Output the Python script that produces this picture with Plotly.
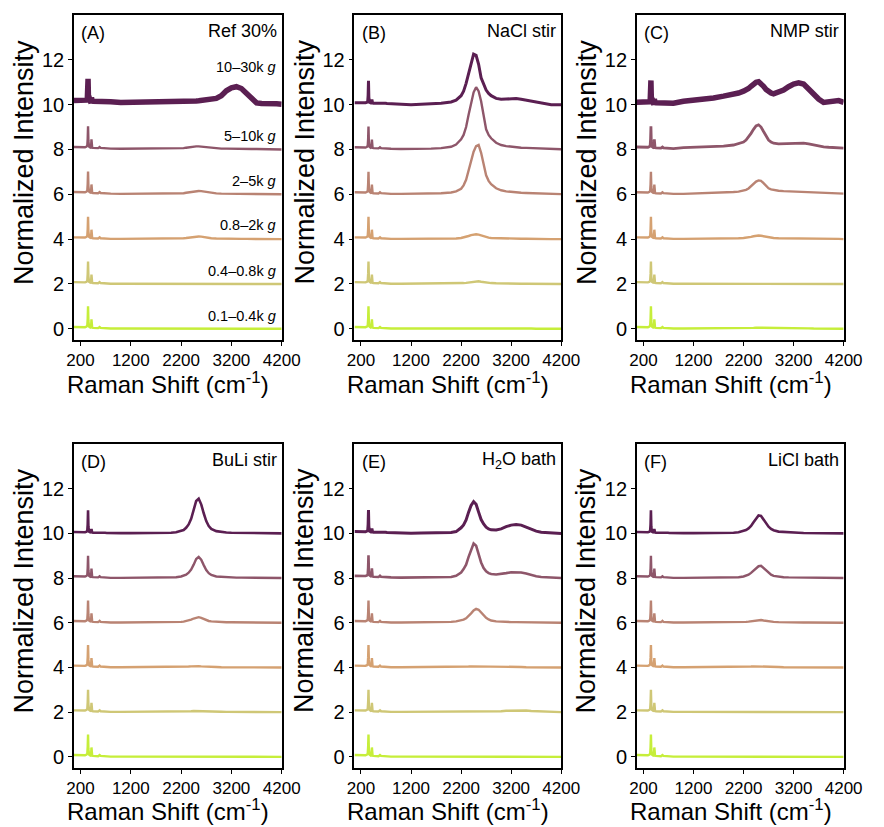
import plotly.graph_objects as go

# ---------------- data ----------------
# Low-wavenumber region (sharp lattice modes), shared grid
WAVENUMBER_LOW = [70, 150, 230, 290, 320, 335, 343, 350, 357, 370, 395, 410, 418,
                  425, 432, 450, 500, 550, 570, 580, 600, 640, 670, 690, 720, 800]
# relative intensity of the lattice modes (normalized to the strongest mode)
PHONON_BAND = [0.08, 0.07, 0.06, 0.07, 0.10, 0.15, 0.45, 1.00, 0.35, 0.10, 0.06, 0.08, 0.42,
               0.12, 0.05, 0.04, 0.03, 0.03, 0.06, 0.08, 0.04, 0.03, 0.05, 0.03, 0.02, 0.01]
PHONON_BAND_TOP = [0.06, 0.05, 0.04, 0.05, 0.08, 0.12, 0.40, 1.03, 0.30, 0.08, 0.05, 0.06, 0.20,
                   0.08, 0.04, 0.03, 0.03, 0.03, 0.05, 0.06, 0.03, 0.03, 0.04, 0.03, 0.02, 0.01]

# High-wavenumber region (broad bands), shared grid
WAVENUMBER_HIGH = [1000, 1200, 1400, 1600, 1800, 2000, 2100, 2200, 2250, 2300, 2350, 2400,
                   2450, 2500, 2550, 2600, 2650, 2700, 2750, 2800, 2900, 3000, 3100, 3200,
                   3300, 3400, 3500, 3600, 3700, 3800, 3900, 4000, 4100, 4200]

FRACTIONS = ["0.1–0.4k", "0.4–0.8k", "0.8–2k", "2–5k", "5–10k", "10–30k"]
OFFSETS = [0, 2, 4, 6, 8, 10]

# (A) Ref 30%
REF30 = [
    [0.01, 0.01, 0.01, 0.01, 0.01, 0.01, 0.01, 0.01, 0.01, 0.01, 0.01, 0.01, 0.01, 0.01, 0.01, 0.01, 0.01,
     0.01, 0.01, 0.01, 0.01, 0.01, 0.01, 0.01, 0.01, 0.01, 0.01, 0.01, 0.0, 0.0, 0.0, 0.0, 0.0, 0.0],
    [0.01, 0.01, 0.01, 0.01, 0.01, 0.01, 0.01, 0.02, 0.02, 0.02, 0.03, 0.03, 0.03, 0.03, 0.03, 0.03, 0.03,
     0.02, 0.02, 0.02, 0.01, 0.01, 0.01, 0.01, 0.01, 0.01, 0.01, 0.01, 0.01, 0.0, 0.0, 0.0, 0.0, 0.0],
    [0.01, 0.01, 0.01, 0.01, 0.01, 0.02, 0.02, 0.03, 0.04, 0.05, 0.07, 0.09, 0.11, 0.12, 0.12, 0.11, 0.09,
     0.07, 0.05, 0.04, 0.03, 0.02, 0.02, 0.02, 0.01, 0.01, 0.01, 0.01, 0.01, 0.01, 0.0, 0.0, 0.0, 0.0],
    [0.02, 0.02, 0.02, 0.02, 0.02, 0.03, 0.03, 0.04, 0.05, 0.07, 0.09, 0.11, 0.13, 0.15, 0.15, 0.14, 0.12,
     0.10, 0.08, 0.06, 0.04, 0.03, 0.03, 0.02, 0.02, 0.02, 0.02, 0.01, 0.01, 0.01, 0.01, 0.0, 0.0, 0.0],
    [0.03, 0.03, 0.03, 0.03, 0.03, 0.04, 0.04, 0.05, 0.06, 0.08, 0.10, 0.12, 0.13, 0.14, 0.14, 0.13, 0.11,
     0.09, 0.07, 0.06, 0.05, 0.04, 0.04, 0.03, 0.03, 0.03, 0.02, 0.02, 0.02, 0.01, 0.01, 0.01, 0.0, 0.0],
    [0.10, 0.10, 0.10, 0.10, 0.10, 0.10, 0.10, 0.12, 0.12, 0.13, 0.14, 0.15, 0.15, 0.16, 0.17, 0.18, 0.18,
     0.20, 0.20, 0.22, 0.28, 0.40, 0.62, 0.75, 0.80, 0.72, 0.50, 0.25, 0.08, 0.05, 0.06, 0.05, 0.04, 0.02],
]
BASE_REF30 = [0.0, 0.0, 0.0, 0.02, 0.03, 0.12]

# (B) NaCl stir
NACL_STIR = [
    [0.01, 0.01, 0.01, 0.01, 0.01, 0.01, 0.01, 0.02, 0.02, 0.02, 0.03, 0.03, 0.04, 0.04, 0.04, 0.03, 0.03,
     0.02, 0.02, 0.02, 0.01, 0.01, 0.01, 0.01, 0.01, 0.01, 0.01, 0.01, 0.0, 0.0, 0.0, 0.0, 0.0, 0.0],
    [0.01, 0.01, 0.01, 0.01, 0.01, 0.02, 0.02, 0.03, 0.04, 0.05, 0.07, 0.09, 0.11, 0.12, 0.12, 0.10, 0.08,
     0.06, 0.05, 0.04, 0.03, 0.02, 0.02, 0.02, 0.01, 0.01, 0.01, 0.01, 0.01, 0.0, 0.0, 0.0, 0.0, 0.0],
    [0.01, 0.01, 0.01, 0.01, 0.01, 0.02, 0.03, 0.05, 0.07, 0.10, 0.14, 0.18, 0.21, 0.22, 0.20, 0.16, 0.12,
     0.09, 0.07, 0.05, 0.04, 0.03, 0.03, 0.02, 0.02, 0.02, 0.02, 0.01, 0.01, 0.01, 0.01, 0.0, 0.0, 0.0],
    [0.02, 0.02, 0.02, 0.03, 0.05, 0.08, 0.13, 0.25, 0.40, 0.65, 1.05, 1.50, 1.90, 2.15, 2.20, 1.85, 1.30,
     0.85, 0.60, 0.45, 0.27, 0.18, 0.13, 0.10, 0.08, 0.07, 0.06, 0.05, 0.04, 0.03, 0.03, 0.02, 0.02, 0.01],
    [0.02, 0.02, 0.03, 0.04, 0.06, 0.12, 0.22, 0.45, 0.65, 1.00, 1.55, 2.10, 2.55, 2.78, 2.60, 2.15, 1.45,
     0.90, 0.65, 0.50, 0.30, 0.20, 0.15, 0.12, 0.10, 0.08, 0.07, 0.06, 0.05, 0.04, 0.03, 0.03, 0.02, 0.01],
    [0.0, 0.0, 0.02, 0.03, 0.06, 0.12, 0.20, 0.40, 0.60, 0.95, 1.35, 1.85, 2.25, 2.20, 1.80, 1.20, 0.90,
     0.65, 0.50, 0.40, 0.28, 0.24, 0.25, 0.27, 0.27, 0.24, 0.20, 0.15, 0.10, 0.05, 0.02, 0.0, 0.0, 0.0],
]
BASE_NACL_STIR = [0.0, 0.0, 0.0, 0.01, 0.02, 0.03]

# (C) NMP stir
NMP_STIR = [
    [0.01, 0.01, 0.01, 0.01, 0.01, 0.02, 0.02, 0.02, 0.03, 0.03, 0.04, 0.04, 0.05, 0.05, 0.05, 0.04, 0.04,
     0.03, 0.03, 0.02, 0.02, 0.02, 0.02, 0.02, 0.02, 0.02, 0.02, 0.01, 0.01, 0.01, 0.01, 0.0, 0.0, 0.0],
    [0.01, 0.01, 0.01, 0.01, 0.01, 0.01, 0.01, 0.01, 0.01, 0.01, 0.02, 0.02, 0.02, 0.02, 0.02, 0.02, 0.02,
     0.01, 0.01, 0.01, 0.01, 0.01, 0.01, 0.01, 0.01, 0.01, 0.01, 0.01, 0.0, 0.0, 0.0, 0.0, 0.0, 0.0],
    [0.01, 0.01, 0.01, 0.02, 0.02, 0.03, 0.04, 0.05, 0.06, 0.08, 0.10, 0.13, 0.15, 0.16, 0.15, 0.13, 0.10,
     0.08, 0.06, 0.05, 0.04, 0.04, 0.04, 0.04, 0.04, 0.04, 0.03, 0.03, 0.02, 0.02, 0.01, 0.01, 0.01, 0.0],
    [0.02, 0.03, 0.04, 0.05, 0.07, 0.10, 0.12, 0.16, 0.20, 0.26, 0.36, 0.47, 0.57, 0.62, 0.60, 0.50, 0.37,
     0.27, 0.22, 0.19, 0.16, 0.14, 0.13, 0.13, 0.13, 0.12, 0.11, 0.09, 0.07, 0.06, 0.05, 0.04, 0.03, 0.03],
    [0.08, 0.09, 0.10, 0.12, 0.15, 0.20, 0.25, 0.33, 0.42, 0.55, 0.72, 0.90, 1.05, 1.10, 1.00, 0.80, 0.58,
     0.42, 0.33, 0.28, 0.25, 0.26, 0.27, 0.28, 0.30, 0.28, 0.25, 0.20, 0.15, 0.12, 0.10, 0.08, 0.08, 0.06],
    [0.15, 0.19, 0.25, 0.30, 0.38, 0.45, 0.52, 0.60, 0.65, 0.72, 0.82, 0.92, 1.00, 1.02, 0.95, 0.82, 0.68,
     0.58, 0.52, 0.48, 0.55, 0.65, 0.80, 0.92, 0.97, 0.92, 0.70, 0.45, 0.25, 0.10, 0.12, 0.18, 0.18, 0.10],
]
BASE_NMP_STIR = [0.0, 0.0, 0.0, 0.01, 0.03, 0.05]

# (D) BuLi stir
BULI_STIR = [
    [0.01, 0.01, 0.01, 0.01, 0.01, 0.01, 0.01, 0.01, 0.01, 0.02, 0.02, 0.02, 0.02, 0.02, 0.02, 0.02, 0.02,
     0.02, 0.01, 0.01, 0.01, 0.01, 0.01, 0.01, 0.01, 0.01, 0.01, 0.0, 0.0, 0.0, 0.0, 0.0, 0.0, 0.0],
    [0.01, 0.01, 0.01, 0.01, 0.01, 0.01, 0.01, 0.02, 0.02, 0.03, 0.03, 0.04, 0.05, 0.05, 0.05, 0.05, 0.04,
     0.03, 0.03, 0.02, 0.02, 0.02, 0.01, 0.01, 0.01, 0.01, 0.01, 0.01, 0.01, 0.0, 0.0, 0.0, 0.0, 0.0],
    [0.01, 0.01, 0.01, 0.01, 0.01, 0.01, 0.02, 0.02, 0.03, 0.03, 0.04, 0.05, 0.06, 0.06, 0.06, 0.05, 0.04,
     0.03, 0.03, 0.02, 0.02, 0.01, 0.01, 0.01, 0.01, 0.01, 0.01, 0.01, 0.01, 0.0, 0.0, 0.0, 0.0, 0.0],
    [0.01, 0.01, 0.01, 0.01, 0.02, 0.02, 0.03, 0.04, 0.05, 0.07, 0.10, 0.14, 0.19, 0.23, 0.25, 0.22, 0.17,
     0.12, 0.08, 0.06, 0.04, 0.03, 0.02, 0.02, 0.02, 0.01, 0.01, 0.01, 0.01, 0.01, 0.0, 0.0, 0.0, 0.0],
    [0.01, 0.01, 0.01, 0.02, 0.02, 0.03, 0.04, 0.07, 0.10, 0.15, 0.24, 0.38, 0.60, 0.85, 0.95, 0.82, 0.58,
     0.36, 0.22, 0.14, 0.07, 0.05, 0.03, 0.03, 0.02, 0.02, 0.02, 0.01, 0.01, 0.01, 0.01, 0.0, 0.0, 0.0],
    [0.01, 0.01, 0.01, 0.02, 0.02, 0.03, 0.05, 0.10, 0.15, 0.25, 0.40, 0.65, 1.05, 1.45, 1.55, 1.30, 0.90,
     0.55, 0.33, 0.20, 0.10, 0.06, 0.04, 0.03, 0.03, 0.02, 0.02, 0.02, 0.01, 0.01, 0.01, 0.0, 0.0, 0.0],
]
BASE_BULI_STIR = [0.0, 0.0, 0.0, 0.0, 0.0, 0.0]

# (E) H2O bath
H2O_BATH = [
    [0.01, 0.01, 0.01, 0.01, 0.01, 0.01, 0.01, 0.01, 0.01, 0.01, 0.01, 0.01, 0.01, 0.01, 0.01, 0.01, 0.01,
     0.01, 0.01, 0.01, 0.01, 0.01, 0.01, 0.01, 0.01, 0.01, 0.01, 0.01, 0.0, 0.0, 0.0, 0.0, 0.0, 0.0],
    [0.01, 0.01, 0.01, 0.01, 0.01, 0.01, 0.01, 0.01, 0.01, 0.02, 0.02, 0.02, 0.02, 0.02, 0.02, 0.02, 0.02,
     0.02, 0.02, 0.02, 0.03, 0.04, 0.06, 0.07, 0.08, 0.08, 0.07, 0.05, 0.04, 0.03, 0.02, 0.01, 0.01, 0.0],
    [0.01, 0.01, 0.01, 0.01, 0.01, 0.02, 0.02, 0.03, 0.03, 0.04, 0.04, 0.05, 0.05, 0.05, 0.05, 0.04, 0.04,
     0.03, 0.03, 0.02, 0.02, 0.02, 0.02, 0.02, 0.02, 0.02, 0.01, 0.01, 0.01, 0.01, 0.0, 0.0, 0.0, 0.0],
    [0.01, 0.01, 0.01, 0.02, 0.02, 0.04, 0.06, 0.10, 0.14, 0.20, 0.30, 0.42, 0.55, 0.62, 0.58, 0.45, 0.32,
     0.22, 0.15, 0.10, 0.06, 0.04, 0.04, 0.03, 0.03, 0.03, 0.02, 0.02, 0.02, 0.01, 0.01, 0.0, 0.0, 0.0],
    [0.02, 0.02, 0.02, 0.03, 0.04, 0.05, 0.10, 0.25, 0.40, 0.60, 0.95, 1.30, 1.55, 1.45, 1.05, 0.70, 0.45,
     0.30, 0.22, 0.18, 0.16, 0.18, 0.22, 0.26, 0.27, 0.25, 0.20, 0.13, 0.08, 0.05, 0.03, 0.02, 0.01, 0.0],
    [0.01, 0.01, 0.02, 0.02, 0.03, 0.04, 0.08, 0.25, 0.38, 0.60, 0.95, 1.25, 1.42, 1.30, 0.95, 0.62, 0.42,
     0.28, 0.20, 0.16, 0.15, 0.20, 0.30, 0.37, 0.40, 0.37, 0.28, 0.18, 0.10, 0.05, 0.03, 0.02, 0.01, 0.0],
]
BASE_H2O_BATH = [0.0, 0.0, 0.0, 0.0, 0.02, 0.02]

# (F) LiCl bath
LICL_BATH = [
    [0.01, 0.01, 0.01, 0.01, 0.01, 0.01, 0.01, 0.01, 0.01, 0.01, 0.01, 0.01, 0.01, 0.01, 0.01, 0.01, 0.01,
     0.01, 0.01, 0.01, 0.01, 0.01, 0.01, 0.01, 0.01, 0.01, 0.01, 0.01, 0.0, 0.0, 0.0, 0.0, 0.0, 0.0],
    [0.01, 0.01, 0.01, 0.01, 0.01, 0.01, 0.01, 0.01, 0.01, 0.02, 0.02, 0.02, 0.02, 0.02, 0.02, 0.02, 0.02,
     0.02, 0.01, 0.01, 0.01, 0.01, 0.01, 0.01, 0.01, 0.01, 0.01, 0.0, 0.0, 0.0, 0.0, 0.0, 0.0, 0.0],
    [0.01, 0.01, 0.01, 0.01, 0.01, 0.01, 0.02, 0.02, 0.03, 0.03, 0.04, 0.05, 0.05, 0.05, 0.05, 0.05, 0.04,
     0.03, 0.03, 0.02, 0.02, 0.01, 0.01, 0.01, 0.01, 0.01, 0.01, 0.01, 0.01, 0.0, 0.0, 0.0, 0.0, 0.0],
    [0.01, 0.01, 0.01, 0.01, 0.01, 0.02, 0.02, 0.03, 0.04, 0.05, 0.07, 0.09, 0.11, 0.12, 0.12, 0.10, 0.08,
     0.06, 0.05, 0.04, 0.03, 0.02, 0.02, 0.02, 0.01, 0.01, 0.01, 0.01, 0.01, 0.0, 0.0, 0.0, 0.0, 0.0],
    [0.01, 0.01, 0.01, 0.02, 0.02, 0.03, 0.04, 0.07, 0.10, 0.15, 0.23, 0.33, 0.45, 0.53, 0.55, 0.45, 0.32,
     0.22, 0.15, 0.10, 0.06, 0.04, 0.03, 0.03, 0.02, 0.02, 0.02, 0.01, 0.01, 0.01, 0.01, 0.0, 0.0, 0.0],
    [0.01, 0.01, 0.01, 0.02, 0.02, 0.03, 0.05, 0.10, 0.15, 0.22, 0.33, 0.50, 0.68, 0.80, 0.78, 0.62, 0.45,
     0.30, 0.20, 0.14, 0.08, 0.06, 0.04, 0.03, 0.03, 0.02, 0.02, 0.02, 0.01, 0.01, 0.01, 0.0, 0.0, 0.0],
]
BASE_LICL_BATH = [0.0, 0.0, 0.0, 0.0, 0.0, 0.0]

PANELS = [
    ("(A)", "Ref 30%", REF30, BASE_REF30),
    ("(B)", "NaCl stir", NACL_STIR, BASE_NACL_STIR),
    ("(C)", "NMP stir", NMP_STIR, BASE_NMP_STIR),
    ("(D)", "BuLi stir", BULI_STIR, BASE_BULI_STIR),
    ("(E)", "H<sub>2</sub>O bath", H2O_BATH, BASE_H2O_BATH),
    ("(F)", "LiCl bath", LICL_BATH, BASE_LICL_BATH),
]

# ---------------- style ----------------
COLORS = ["#c6ee3a", "#cfc776", "#d5a171", "#b98373", "#8e566a", "#5b1f52"]
LINE_WIDTHS = [
    [2.4, 2.4, 2.4, 2.4, 2.4, 5.5],
    [2.4, 2.4, 2.4, 2.4, 2.4, 3.0],
    [2.4, 2.4, 2.4, 2.4, 2.8, 5.5],
    [2.4, 2.4, 2.4, 2.4, 2.4, 2.6],
    [2.4, 2.4, 2.4, 2.4, 2.6, 3.0],
    [2.4, 2.4, 2.4, 2.4, 2.4, 2.6],
]
FONT = "Liberation Sans, Arial, sans-serif"
W, H = 884, 827
X_DOMAINS = [(69 / W, 283 / W), (358 / W, 571 / W), (649 / W, 862 / W)]
Y_DOMAINS = [(1 - 340 / H, 1 - 15 / H), (1 - 768 / H, 1 - 444 / H)]
XTITLE_GAP = [43, 42]

fig = go.Figure()
layout = dict(
    width=W, height=H,
    margin=dict(l=0, r=0, t=0, b=0),
    paper_bgcolor="white", plot_bgcolor="white",
    showlegend=False,
    font=dict(family=FONT, color="black"),
)
annotations = []

for i, (letter, name, spectra, bases) in enumerate(PANELS):
    row, col = divmod(i, 3)
    xid = "x" if i == 0 else f"x{i + 1}"
    yid = "y" if i == 0 else f"y{i + 1}"
    xkey = "xaxis" if i == 0 else f"xaxis{i + 1}"
    ykey = "yaxis" if i == 0 else f"yaxis{i + 1}"

    for j in range(6):
        assert len(spectra[j]) == len(WAVENUMBER_HIGH)
        band = PHONON_BAND_TOP if j == 5 else PHONON_BAND
        y_low = [OFFSETS[j] + bases[j] + v for v in band]
        y_high = [OFFSETS[j] + v for v in spectra[j]]
        fig.add_trace(go.Scatter(
            x=WAVENUMBER_LOW + WAVENUMBER_HIGH, y=y_low + y_high,
            mode="lines", line=dict(color=COLORS[j], width=LINE_WIDTHS[i][j]),
            xaxis=xid, yaxis=yid, name=FRACTIONS[j], hoverinfo="skip",
        ))

    common = dict(showgrid=False, zeroline=False, showline=True, linecolor="black",
                  linewidth=1.6, mirror=True, ticks="outside", ticklen=4, tickwidth=1.4,
                  tickcolor="black")
    layout[xkey] = dict(common, domain=X_DOMAINS[col], anchor=yid, range=[70, 4200],
                        tickvals=[200, 1200, 2200, 3200, 4200],
                        tickfont=dict(size=17, family=FONT, color="black"))
    layout[ykey] = dict(common, domain=Y_DOMAINS[row], anchor=xid, range=[-0.5, 14.0],
                        tickvals=[0, 2, 4, 6, 8, 10, 12],
                        tickfont=dict(size=20, family=FONT, color="black"))

    xdom = f"{xid} domain"
    ydom = f"{yid} domain"
    annotations.append(dict(text=letter, xref=xdom, yref=ydom, x=0.025, y=0.945,
                            xanchor="left", yanchor="middle", showarrow=False,
                            font=dict(size=18, family=FONT)))
    annotations.append(dict(text=name, xref=xdom, yref=ydom, x=0.985, y=0.95,
                            xanchor="right", yanchor="middle", showarrow=False,
                            font=dict(size=18, family=FONT)))

    # axis titles
    x0, x1 = X_DOMAINS[col]
    y0, y1 = Y_DOMAINS[row]
    annotations.append(dict(text="Raman Shift (cm<sup>-1</sup>)", xref="paper", yref="paper",
                            x=(x0 + x1) / 2 - 10 / W, y=y0 - XTITLE_GAP[row] / H,
                            xanchor="center", yanchor="middle", showarrow=False,
                            font=dict(size=24, family=FONT)))
    annotations.append(dict(text="Normalized Intensity", xref="paper", yref="paper",
                            x=x0 - 52 / W, y=(y0 + y1) / 2 + 15 / H, xanchor="center",
                            yanchor="middle", textangle=-90, showarrow=False,
                            font=dict(size=27, family=FONT)))

# fraction labels in panel A
LABEL_Y = [0.55, 2.6, 4.65, 6.6, 8.6, 11.7]
for j, frac in enumerate(FRACTIONS):
    annotations.append(dict(text=f"{frac} <i>g</i>", xref="x domain", yref="y",
                            x=0.98, y=LABEL_Y[j], xanchor="right", yanchor="middle",
                            showarrow=False, font=dict(size=14.5, family=FONT)))

layout["annotations"] = annotations
fig.update_layout(**layout)
fig.write_html("out.html")
